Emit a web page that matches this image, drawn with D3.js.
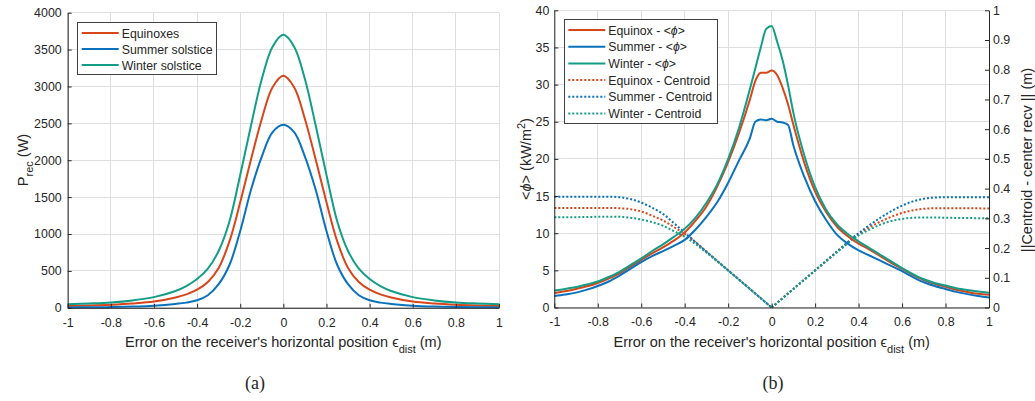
<!DOCTYPE html>
<html>
<head>
<meta charset="utf-8">
<script src="https://cdn.jsdelivr.net/npm/d3@7"></script>
<style>
  body { margin: 0; background: #fff; }
  svg text { font-family: "Liberation Sans", Arial, Helvetica, sans-serif; fill: #262626; }
  .caption { font-family: "Liberation Serif", "DejaVu Serif", serif; }
</style>
</head>
<body>
<div id="chart"></div>
<script>
// ---- (a) received power vs error ----
const xPower = [-1, -0.9, -0.8, -0.7, -0.6, -0.5, -0.45, -0.4, -0.35, -0.3, -0.25, -0.2, -0.15, -0.1, -0.05, 0,
                0.05, 0.1, 0.15, 0.2, 0.25, 0.3, 0.35, 0.4, 0.45, 0.5, 0.6, 0.7, 0.8, 0.9, 1];
const equinoxP = [25, 32, 42, 58, 84, 140, 182, 245, 350, 540, 900, 1430, 2010, 2560, 2990, 3145,
                  2990, 2560, 2010, 1430, 900, 540, 350, 245, 182, 140, 84, 58, 42, 32, 25];
const summerP  = [5, 7, 10, 16, 28, 52, 70, 102, 170, 320, 580, 1040, 1600, 2050, 2380, 2480,
                  2380, 2050, 1600, 1040, 580, 320, 170, 102, 70, 52, 28, 16, 10, 7, 5];
const winterP  = [48, 58, 72, 100, 145, 228, 295, 390, 530, 770, 1170, 1800, 2470, 3100, 3540, 3700,
                  3540, 3100, 2470, 1800, 1170, 770, 530, 390, 295, 228, 145, 100, 72, 58, 48];

// ---- (b) mean flux density ----
const xPhi = [-1, -0.95, -0.9, -0.85, -0.8, -0.75, -0.7, -0.65, -0.6, -0.55, -0.5, -0.45, -0.4, -0.35, -0.3,
              -0.25, -0.2, -0.15, -0.1, -0.075, -0.05, -0.025, 0, 0.025, 0.05, 0.075, 0.1, 0.15, 0.2, 0.25,
              0.3, 0.35, 0.4, 0.45, 0.5, 0.55, 0.6, 0.65, 0.7, 0.75, 0.8, 0.85, 0.9, 0.95, 1];
const equinoxPhi = [1.95, 2.2, 2.5, 2.85, 3.3, 3.9, 4.6, 5.5, 6.4, 7.3, 8.1, 9.0, 10.1, 11.7, 13.6,
                    16.3, 19.6, 23.5, 28.0, 30.5, 31.6, 31.6, 31.9, 31.3, 29.6, 27.4, 24.6, 19.5, 15.6, 12.9,
                    10.9, 9.6, 8.6, 7.8, 6.9, 6.0, 5.2, 4.4, 3.7, 3.2, 2.8, 2.4, 2.1, 1.85, 1.7];
const summerPhi  = [1.55, 1.75, 2.0, 2.4, 2.9, 3.5, 4.3, 5.2, 6.1, 6.9, 7.6, 8.3, 9.1, 10.5, 12.2,
                    14.2, 16.8, 19.8, 22.8, 25.0, 25.3, 25.2, 25.4, 25.0, 24.9, 24.6, 21.8, 17.6, 14.3, 11.8,
                    9.8, 8.6, 7.7, 7.0, 6.3, 5.6, 4.9, 4.1, 3.4, 2.9, 2.5, 2.1, 1.8, 1.55, 1.35];
const winterPhi  = [2.3, 2.5, 2.75, 3.1, 3.5, 4.1, 4.8, 5.7, 6.6, 7.6, 8.5, 9.5, 10.6, 12.1, 14.1,
                    16.6, 20.0, 24.2, 29.4, 32.2, 35.0, 37.5, 37.9, 35.8, 33.3, 30.0, 26.2, 20.5, 16.2, 13.2,
                    11.2, 9.9, 8.9, 8.0, 7.1, 6.2, 5.3, 4.5, 3.8, 3.3, 2.95, 2.6, 2.35, 2.15, 2.0];

// ---- (b) centroid distance (right axis) ----
const xCent = [-1, -0.9, -0.8, -0.75, -0.7, -0.65, -0.6, -0.55, -0.5, -0.45, -0.4, -0.3, -0.2, -0.1, 0,
               0.1, 0.2, 0.3, 0.4, 0.45, 0.5, 0.55, 0.6, 0.65, 0.7, 0.75, 0.8, 0.9, 1];
const equinoxCent = [0.335, 0.335, 0.335, 0.335, 0.334, 0.331, 0.323, 0.309, 0.293, 0.271, 0.248, 0.188, 0.125, 0.0625, 0,
                     0.0625, 0.125, 0.188, 0.248, 0.270, 0.289, 0.305, 0.318, 0.327, 0.332, 0.334, 0.334, 0.334, 0.333];
const summerCent  = [0.373, 0.373, 0.373, 0.373, 0.371, 0.365, 0.353, 0.336, 0.315, 0.284, 0.252, 0.188, 0.125, 0.0625, 0,
                     0.0625, 0.125, 0.188, 0.25, 0.277, 0.302, 0.324, 0.343, 0.357, 0.366, 0.370, 0.371, 0.371, 0.371];
const winterCent  = [0.304, 0.304, 0.305, 0.305, 0.305, 0.302, 0.296, 0.287, 0.275, 0.257, 0.238, 0.185, 0.124, 0.062, 0,
                     0.062, 0.124, 0.185, 0.243, 0.262, 0.279, 0.291, 0.298, 0.302, 0.303, 0.303, 0.302, 0.301, 0.300];

// ---- ticks ----
const xTicks      = [-1, -0.8, -0.6, -0.4, -0.2, 0, 0.2, 0.4, 0.6, 0.8, 1];
const xTickLabels = ["-1", "-0.8", "-0.6", "-0.4", "-0.2", "0", "0.2", "0.4", "0.6", "0.8", "1"];
const powerTicks  = [0, 500, 1000, 1500, 2000, 2500, 3000, 3500, 4000];
const phiTicks    = [0, 5, 10, 15, 20, 25, 30, 35, 40];
const centTicks   = [0, 0.1, 0.2, 0.3, 0.4, 0.5, 0.6, 0.7, 0.8, 0.9, 1];

const cRed = "#d7461b", cBlue = "#0a72bd", cGreen = "#139d86";
const axisColor = "#262626", gridColor = "#dfdfdf";

const svg = d3.select("#chart").append("svg")
  .attr("width", 1035).attr("height", 401);

const styleAxis = g => {
  g.select(".domain").attr("stroke", axisColor).attr("stroke-width", 1);
  g.selectAll(".tick line").attr("stroke", axisColor);
  g.selectAll(".tick text").style("font-size", "12.4px").attr("fill", axisColor);
};

const drawGrid = (g, xScale, yScale, yTicks) => {
  const [x0, x1] = xScale.range();
  const [y0, y1] = yScale.range();
  g.append("g").selectAll("line").data(xTicks).join("line")
    .attr("x1", d => xScale(d)).attr("x2", d => xScale(d))
    .attr("y1", y0).attr("y2", y1)
    .attr("stroke", gridColor).attr("shape-rendering", "crispEdges");
  g.append("g").selectAll("line").data(yTicks).join("line")
    .attr("x1", x0).attr("x2", x1)
    .attr("y1", d => yScale(d)).attr("y2", d => yScale(d))
    .attr("stroke", gridColor).attr("shape-rendering", "crispEdges");
};

const xLabel = (g, cx, y) => {
  const t = g.append("text").attr("x", cx).attr("y", y)
    .attr("text-anchor", "middle").style("font-size", "14.5px");
  t.append("tspan").text("Error on the receiver's horizontal position ");
  t.append("tspan").text("\u03F5");
  t.append("tspan").attr("dy", 6).style("font-size", "11px").text("dist");
  t.append("tspan").attr("dy", -6).text(" (m)");
};

const legend = (g, x, y, w, rowH, items) => {
  g.append("rect").attr("x", x).attr("y", y)
    .attr("width", w).attr("height", rowH * items.length + 4.5)
    .attr("fill", "#fff").attr("stroke", "#404040").attr("stroke-width", 1)
    .attr("shape-rendering", "crispEdges");
  items.forEach((it, i) => {
    const cy = y + 10.8 + i * rowH;
    g.append("line").attr("x1", x + 4).attr("x2", x + 41)
      .attr("y1", cy).attr("y2", cy)
      .attr("stroke", it.color).attr("stroke-width", 2)
      .attr("stroke-dasharray", it.dotted ? "2,2" : null);
    const t = g.append("text").attr("x", x + 44).attr("y", cy + 4.4)
      .style("font-size", "12.3px");
    it.parts.forEach(p => t.append("tspan").style("font-style", p.italic ? "italic" : null).text(p.s));
  });
};

// =========== panel (a) ===========
{
  const xScale = d3.scaleLinear().domain([-1, 1]).range([67.7, 499]);
  const yScale = d3.scaleLinear().domain([0, 4000]).range([307.8, 12.7]);
  const g = svg.append("g");
  drawGrid(g, xScale, yScale, powerTicks);

  const series = [
    { vals: equinoxP, color: cRed },
    { vals: summerP,  color: cBlue },
    { vals: winterP,  color: cGreen }
  ];
  const line = d3.line().curve(d3.curveCatmullRom.alpha(0.5));
  series.forEach(s => {
    g.append("path")
      .attr("d", line(xPower.map((x, i) => [xScale(x), yScale(s.vals[i])])))
      .attr("fill", "none").attr("stroke", s.color).attr("stroke-width", 2);
  });

  g.append("g").attr("transform", "translate(0,307.8)")
    .call(d3.axisBottom(xScale).tickValues(xTicks).tickFormat((d, i) => xTickLabels[i])
      .tickSizeInner(-4).tickSizeOuter(0).tickPadding(10))
    .call(styleAxis);
  g.append("g").attr("transform", "translate(67.7,0)")
    .call(d3.axisLeft(yScale).tickValues(powerTicks).tickFormat(d3.format("d"))
      .tickSizeInner(-4).tickSizeOuter(0).tickPadding(6))
    .call(styleAxis);

  xLabel(g, 283.3, 346.5);
  const yl = g.append("text").attr("transform", "translate(28,160) rotate(-90)")
    .attr("text-anchor", "middle").style("font-size", "14.5px");
  yl.append("tspan").text("P");
  yl.append("tspan").attr("dy", 5).style("font-size", "11px").text("rec");
  yl.append("tspan").attr("dy", -5).text(" (W)");

  legend(g, 77.7, 22.3, 139, 16, [
    { color: cRed,   parts: [{ s: "Equinoxes" }] },
    { color: cBlue,  parts: [{ s: "Summer solstice" }] },
    { color: cGreen, parts: [{ s: "Winter solstice" }] }
  ]);

  svg.append("text").attr("class", "caption").attr("x", 255).attr("y", 389)
    .attr("text-anchor", "middle").style("font-size", "18px").text("(a)");
}

// =========== panel (b) ===========
{
  const xScale = d3.scaleLinear().domain([-1, 1]).range([554.3, 989]);
  const yScale = d3.scaleLinear().domain([0, 40]).range([307.5, 10.3]);
  const rScale = d3.scaleLinear().domain([0, 1]).range([307.5, 10.3]);
  const g = svg.append("g");
  drawGrid(g, xScale, yScale, phiTicks);

  const line = d3.line().curve(d3.curveMonotoneX);
  const cent = [
    { vals: equinoxCent, color: cRed },
    { vals: summerCent,  color: cBlue },
    { vals: winterCent,  color: cGreen }
  ];
  // centroid curves are drawn as two halves so the V at 0 stays sharp
  cent.forEach(s => {
    const pts = xCent.map((x, i) => [x, s.vals[i]]);
    [pts.filter(p => p[0] <= 0), pts.filter(p => p[0] >= 0)].forEach(half => {
      g.append("path")
        .attr("d", line(half.map(p => [xScale(p[0]), rScale(p[1])])))
        .attr("fill", "none").attr("stroke", s.color).attr("stroke-width", 2)
        .attr("stroke-dasharray", "2,2");
    });
  });
  const phi = [
    { vals: equinoxPhi, color: cRed },
    { vals: summerPhi,  color: cBlue },
    { vals: winterPhi,  color: cGreen }
  ];
  phi.forEach(s => {
    g.append("path")
      .attr("d", line(xPhi.map((x, i) => [xScale(x), yScale(s.vals[i])])))
      .attr("fill", "none").attr("stroke", s.color).attr("stroke-width", 2);
  });

  g.append("g").attr("transform", "translate(0,307.5)")
    .call(d3.axisBottom(xScale).tickValues(xTicks).tickFormat((d, i) => xTickLabels[i])
      .tickSizeInner(-4).tickSizeOuter(0).tickPadding(10))
    .call(styleAxis);
  g.append("g").attr("transform", "translate(554.3,0)")
    .call(d3.axisLeft(yScale).tickValues(phiTicks).tickFormat(d3.format("d"))
      .tickSizeInner(-4).tickSizeOuter(0).tickPadding(5))
    .call(styleAxis);
  g.append("g").attr("transform", "translate(989,0)")
    .call(d3.axisRight(rScale).tickValues(centTicks).tickFormat(d3.format("~g"))
      .tickSizeInner(-4).tickSizeOuter(0).tickPadding(4))
    .call(styleAxis);

  xLabel(g, 771.7, 346.5);
  const yl = g.append("text").attr("transform", "translate(531,159) rotate(-90)")
    .attr("text-anchor", "middle").style("font-size", "14.5px");
  yl.append("tspan").text("<");
  yl.append("tspan").style("font-style", "italic").text("\u03D5");
  yl.append("tspan").text("> (kW/m");
  yl.append("tspan").attr("dy", -6).style("font-size", "11px").text("2");
  yl.append("tspan").attr("dy", 6).text(")");

  g.append("text").attr("transform", "translate(1031.5,160) rotate(-90)")
    .attr("text-anchor", "middle").style("font-size", "14.5px")
    .text("||Centroid - center recv || (m)");

  legend(g, 564.3, 19.3, 153, 16.67, [
    { color: cRed,   parts: [{ s: "Equinox - <" }, { s: "\u03D5", italic: true }, { s: ">" }] },
    { color: cBlue,  parts: [{ s: "Summer - <" }, { s: "\u03D5", italic: true }, { s: ">" }] },
    { color: cGreen, parts: [{ s: "Winter - <" }, { s: "\u03D5", italic: true }, { s: ">" }] },
    { color: cRed,   dotted: true, parts: [{ s: "Equinox - Centroid" }] },
    { color: cBlue,  dotted: true, parts: [{ s: "Summer - Centroid" }] },
    { color: cGreen, dotted: true, parts: [{ s: "Winter - Centroid" }] }
  ]);

  svg.append("text").attr("class", "caption").attr("x", 773).attr("y", 389)
    .attr("text-anchor", "middle").style("font-size", "18px").text("(b)");
}
</script>
</body>
</html>
